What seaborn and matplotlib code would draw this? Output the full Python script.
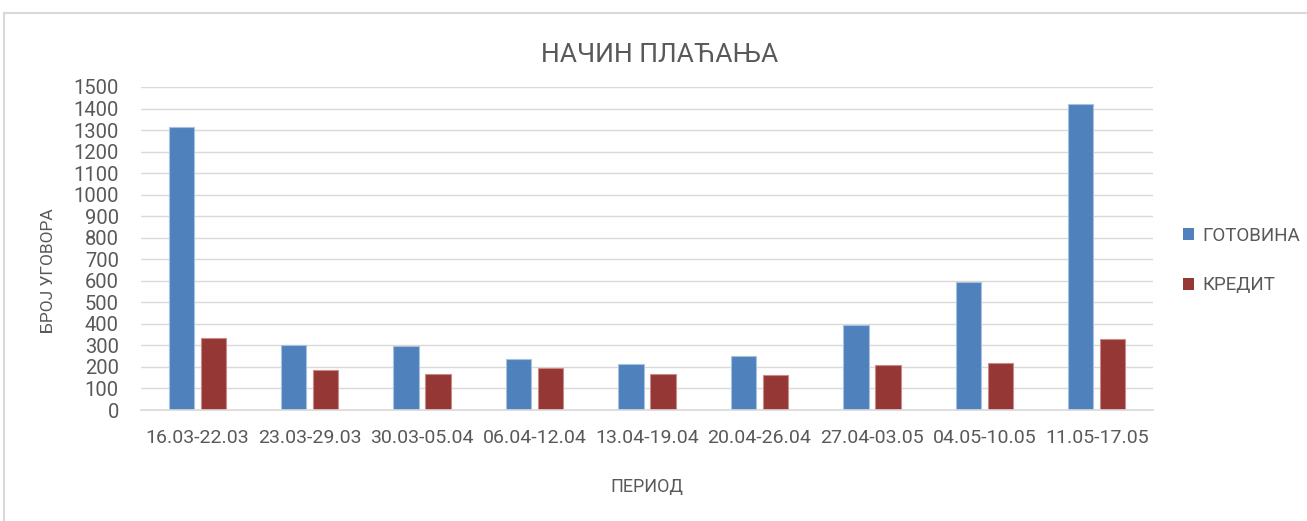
import matplotlib
matplotlib.use("Agg")
from matplotlib import pyplot as plt
from matplotlib.patches import Rectangle
import pandas as pd
import seaborn as sns

# Data
periods = ["16.03-22.03", "23.03-29.03", "30.03-05.04", "06.04-12.04", "13.04-19.04",
           "20.04-26.04", "27.04-03.05", "04.05-10.05", "11.05-17.05"]
gotovina = [1312, 304, 298, 237, 212, 251, 394, 595, 1423]
kredit = [333, 188, 166, 195, 167, 163, 209, 219, 329]
series_names = ["ГОТОВИНА", "КРЕДИТ"]

df = pd.DataFrame({
    "period": periods * 2,
    "count": gotovina + kredit,
    "type": [series_names[0]] * len(periods) + [series_names[1]] * len(periods),
})

sns.set_style("white")
plt.rcParams["font.family"] = ["Roboto", "DejaVu Sans"]
text_color = "#595959"

fig = plt.figure(figsize=(13.07, 5.21), dpi=100)
ax = fig.add_axes([141 / 1307, 1 - 410 / 521, (1153 - 141) / 1307, (410 - 87) / 521])

sns.barplot(
    data=df, x="period", y="count", hue="type",
    palette=["#4F81BD", "#953735"],
    width=0.57, gap=0.21, saturation=1, ax=ax,
)

# thin lighter outline like the original
for cont, edge in zip(ax.containers, ["#a9c1e0", "#c98c8b"]):
    for bar in cont:
        bar.set_edgecolor(edge)
        bar.set_linewidth(0.8)

ax.set_ylim(0, 1500)
ax.set_yticks(range(0, 1501, 100))
ax.set_xlim(-0.5, len(periods) - 0.5)
ax.yaxis.grid(True, color="#d9d9d9", linewidth=1)
ax.set_axisbelow(True)
for side in ["top", "right", "left"]:
    ax.spines[side].set_visible(False)
ax.spines["bottom"].set_color("#d9d9d9")
ax.spines["bottom"].set_linewidth(1.2)

ax.tick_params(axis="y", length=0, pad=16, labelsize=14.5, labelcolor=text_color)
ax.tick_params(axis="x", length=0, pad=14, labelsize=14, labelcolor=text_color)

ax.set_xlabel("ПЕРИОД", fontsize=13, color=text_color, labelpad=22)
ax.set_ylabel("БРОЈ УГОВОРА", fontsize=12.5, color=text_color)
ax.yaxis.set_label_coords(-0.084, 0.433)
fig.text(0.505, 1 - 55 / 521, "НАЧИН ПЛАЋАЊА", ha="center", va="center",
         fontsize=19, color=text_color)

handles, labels = ax.get_legend_handles_labels()
ax.get_legend().remove()
leg = fig.legend(handles, labels, loc="center left", bbox_to_anchor=(0.905, 0.50),
                 frameon=False, fontsize=13.5, handlelength=0.6, handleheight=0.6,
                 handletextpad=0.45, labelspacing=1.7, borderpad=0, borderaxespad=0)
for t in leg.get_texts():
    t.set_color(text_color)
for h in leg.legend_handles:
    h.set_linewidth(0)

# outer chart frame
fig.patches.append(Rectangle((4 / 1307, -0.1), 1.2, 1.1 - 13 / 521, transform=fig.transFigure,
                             fill=False, edgecolor="#d9d9d9", linewidth=1.5))

fig.savefig("out.png", dpi=100)
